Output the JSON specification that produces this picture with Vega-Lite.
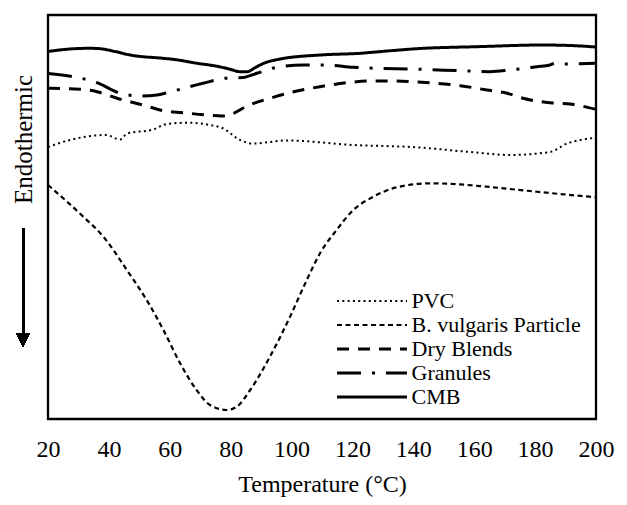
{
  "$schema": "https://vega.github.io/schema/vega-lite/v6.json",
  "autosize": {"type": "none"},
  "padding": {"left": 48, "top": 15, "right": 31, "bottom": 86},
  "width": 548,
  "height": 404,
  "background": "white",
  "config": {
    "font": "Liberation Serif",
    "view": {"stroke": "black", "strokeWidth": 2.3},
    "axis": {"grid": false, "domain": false, "ticks": false, "labelFont": "Liberation Serif", "titleFont": "Liberation Serif"},
    "legend": {"labelFont": "Liberation Serif"}
  },
  "data": {
    "values": [
      {"series": "PVC", "t": 20, "v": 272},
      {"series": "PVC", "t": 27.2, "v": 279},
      {"series": "PVC", "t": 39.1, "v": 284},
      {"series": "PVC", "t": 43.7, "v": 279.5},
      {"series": "PVC", "t": 46.0, "v": 285.5},
      {"series": "PVC", "t": 54.5, "v": 289.5},
      {"series": "PVC", "t": 59.1, "v": 295},
      {"series": "PVC", "t": 65.7, "v": 296.3},
      {"series": "PVC", "t": 73.2, "v": 294},
      {"series": "PVC", "t": 77.2, "v": 291},
      {"series": "PVC", "t": 83.1, "v": 279},
      {"series": "PVC", "t": 87.1, "v": 275.5},
      {"series": "PVC", "t": 98.5, "v": 278.5},
      {"series": "PVC", "t": 120.2, "v": 274},
      {"series": "PVC", "t": 141.2, "v": 271.7},
      {"series": "PVC", "t": 158.6, "v": 267},
      {"series": "PVC", "t": 171.7, "v": 264},
      {"series": "PVC", "t": 184.9, "v": 267},
      {"series": "PVC", "t": 190.5, "v": 275.5},
      {"series": "PVC", "t": 195.7, "v": 279.5},
      {"series": "PVC", "t": 200, "v": 281.3},

      {"series": "B. vulgaris Particle", "t": 20, "v": 234},
      {"series": "B. vulgaris Particle", "t": 31.6, "v": 202.3},
      {"series": "B. vulgaris Particle", "t": 38.2, "v": 182.3},
      {"series": "B. vulgaris Particle", "t": 45.9, "v": 149},
      {"series": "B. vulgaris Particle", "t": 52.4, "v": 119},
      {"series": "B. vulgaris Particle", "t": 57.9, "v": 89},
      {"series": "B. vulgaris Particle", "t": 63.4, "v": 55.7},
      {"series": "B. vulgaris Particle", "t": 68.8, "v": 29},
      {"series": "B. vulgaris Particle", "t": 73.2, "v": 14},
      {"series": "B. vulgaris Particle", "t": 78.7, "v": 9},
      {"series": "B. vulgaris Particle", "t": 82, "v": 12.3},
      {"series": "B. vulgaris Particle", "t": 86.4, "v": 29},
      {"series": "B. vulgaris Particle", "t": 92.9, "v": 62.3},
      {"series": "B. vulgaris Particle", "t": 99.5, "v": 102.3},
      {"series": "B. vulgaris Particle", "t": 105, "v": 139},
      {"series": "B. vulgaris Particle", "t": 109.4, "v": 166},
      {"series": "B. vulgaris Particle", "t": 114.8, "v": 189},
      {"series": "B. vulgaris Particle", "t": 120.3, "v": 209},
      {"series": "B. vulgaris Particle", "t": 126.9, "v": 222.3},
      {"series": "B. vulgaris Particle", "t": 134.5, "v": 231.7},
      {"series": "B. vulgaris Particle", "t": 145.5, "v": 235.7},
      {"series": "B. vulgaris Particle", "t": 153.1, "v": 235},
      {"series": "B. vulgaris Particle", "t": 164.1, "v": 232.3},
      {"series": "B. vulgaris Particle", "t": 177.2, "v": 228.3},
      {"series": "B. vulgaris Particle", "t": 188.2, "v": 225},
      {"series": "B. vulgaris Particle", "t": 200, "v": 221.7},

      {"series": "Dry Blends", "t": 20, "v": 330.7},
      {"series": "Dry Blends", "t": 30.5, "v": 329.7},
      {"series": "Dry Blends", "t": 36.1, "v": 327.3},
      {"series": "Dry Blends", "t": 42.7, "v": 320.7},
      {"series": "Dry Blends", "t": 51.2, "v": 314},
      {"series": "Dry Blends", "t": 57.8, "v": 308.3},
      {"series": "Dry Blends", "t": 64.3, "v": 306.3},
      {"series": "Dry Blends", "t": 72.2, "v": 304},
      {"series": "Dry Blends", "t": 77.1, "v": 303},
      {"series": "Dry Blends", "t": 80.4, "v": 305},
      {"series": "Dry Blends", "t": 85.4, "v": 313},
      {"series": "Dry Blends", "t": 92.9, "v": 320.7},
      {"series": "Dry Blends", "t": 101.8, "v": 328},
      {"series": "Dry Blends", "t": 109.3, "v": 332.3},
      {"series": "Dry Blends", "t": 118.2, "v": 336.3},
      {"series": "Dry Blends", "t": 125.8, "v": 338},
      {"series": "Dry Blends", "t": 133.3, "v": 338},
      {"series": "Dry Blends", "t": 141.2, "v": 337},
      {"series": "Dry Blends", "t": 147.8, "v": 335.7},
      {"series": "Dry Blends", "t": 155.4, "v": 333.3},
      {"series": "Dry Blends", "t": 164.2, "v": 329},
      {"series": "Dry Blends", "t": 170.8, "v": 325.7},
      {"series": "Dry Blends", "t": 176.0, "v": 320.7},
      {"series": "Dry Blends", "t": 184.9, "v": 316.3},
      {"series": "Dry Blends", "t": 191.5, "v": 315},
      {"series": "Dry Blends", "t": 200, "v": 309.7},

      {"series": "Granules", "t": 20, "v": 345.5},
      {"series": "Granules", "t": 28.2, "v": 342.3},
      {"series": "Granules", "t": 36.1, "v": 336.3},
      {"series": "Granules", "t": 43.7, "v": 325.7},
      {"series": "Granules", "t": 50.2, "v": 323},
      {"series": "Granules", "t": 55.8, "v": 324},
      {"series": "Granules", "t": 59.1, "v": 326.3},
      {"series": "Granules", "t": 63.4, "v": 329.7},
      {"series": "Granules", "t": 70.9, "v": 335.7},
      {"series": "Granules", "t": 79.1, "v": 341},
      {"series": "Granules", "t": 84.1, "v": 341.5},
      {"series": "Granules", "t": 88.6, "v": 345.7},
      {"series": "Granules", "t": 95.2, "v": 351.7},
      {"series": "Granules", "t": 103.8, "v": 354},
      {"series": "Granules", "t": 111.6, "v": 354},
      {"series": "Granules", "t": 120.2, "v": 351.7},
      {"series": "Granules", "t": 128.1, "v": 350.7},
      {"series": "Granules", "t": 138.9, "v": 350},
      {"series": "Granules", "t": 155.4, "v": 348.3},
      {"series": "Granules", "t": 165.2, "v": 347.3},
      {"series": "Granules", "t": 171.7, "v": 349},
      {"series": "Granules", "t": 180.6, "v": 352.3},
      {"series": "Granules", "t": 184.9, "v": 354},
      {"series": "Granules", "t": 186.5, "v": 355.7},
      {"series": "Granules", "t": 188.2, "v": 355},
      {"series": "Granules", "t": 200, "v": 355.7},

      {"series": "CMB", "t": 20, "v": 367.5},
      {"series": "CMB", "t": 27.2, "v": 370},
      {"series": "CMB", "t": 33.8, "v": 370.7},
      {"series": "CMB", "t": 37.1, "v": 370.3},
      {"series": "CMB", "t": 42, "v": 367.5},
      {"series": "CMB", "t": 47, "v": 364},
      {"series": "CMB", "t": 57.8, "v": 360.7},
      {"series": "CMB", "t": 61.1, "v": 359.7},
      {"series": "CMB", "t": 69, "v": 355.7},
      {"series": "CMB", "t": 75.6, "v": 352.7},
      {"series": "CMB", "t": 79.9, "v": 349.7},
      {"series": "CMB", "t": 83.1, "v": 347.3},
      {"series": "CMB", "t": 85.4, "v": 347.3},
      {"series": "CMB", "t": 88.1, "v": 351.5},
      {"series": "CMB", "t": 90.7, "v": 355.5},
      {"series": "CMB", "t": 96.3, "v": 360},
      {"series": "CMB", "t": 109.4, "v": 364},
      {"series": "CMB", "t": 122.5, "v": 365.7},
      {"series": "CMB", "t": 131.4, "v": 368},
      {"series": "CMB", "t": 142.2, "v": 370.5},
      {"series": "CMB", "t": 160.9, "v": 372.3},
      {"series": "CMB", "t": 182.6, "v": 374},
      {"series": "CMB", "t": 191.5, "v": 373.5},
      {"series": "CMB", "t": 200, "v": 372}
    ]
  },
  "layer": [
    {
      "mark": {"type": "line", "interpolate": "monotone", "color": "black", "strokeCap": "butt"},
      "encoding": {
        "x": {
          "field": "t", "type": "quantitative",
          "scale": {"domain": [20, 200], "nice": false, "zero": false},
          "axis": {
            "values": [20, 40, 60, 80, 100, 120, 140, 160, 180, 200],
            "labelFont": "Liberation Serif",
            "labelFontSize": 24, "labelColor": "black", "labelPadding": 18,
            "labelFlush": false, "labelOverlap": false,
            "title": "Temperature (°C)", "titleFont": "Liberation Serif", "titleFontSize": 24, "titleFontWeight": "normal",
            "titleColor": "black", "titlePadding": 11
          }
        },
        "y": {
          "field": "v", "type": "quantitative",
          "scale": {"domain": [0, 404], "nice": false, "zero": false},
          "axis": {
            "labels": false,
            "title": "Endothermic", "titleFont": "Liberation Serif", "titleFontSize": 25, "titleFontWeight": "normal",
            "titleColor": "black", "titleAngle": -90, "titleAlign": "center",
            "titleBaseline": "middle", "titleX": -25, "titleY": 124
          }
        },
        "detail": {"field": "series"},
        "strokeDash": {
          "field": "series", "type": "nominal",
          "scale": {
            "domain": ["PVC", "B. vulgaris Particle", "Dry Blends", "Granules", "CMB"],
            "range": [[2, 3.3], [5, 3.5], [12, 9], [24, 11, 3, 11], [1, 0]]
          },
          "legend": {
            "title": null, "orient": "none", "legendX": 313, "legendY": 275,
            "padding": 0, "rowPadding": 2,
            "labelFont": "Liberation Serif", "labelFontSize": 22, "labelColor": "black",
            "labelOffset": 28.5, "labelLimit": 400,
            "symbolType": "M-4,0H4", "symbolSize": 306, "symbolStrokeColor": "black"
          }
        },
        "strokeWidth": {
          "field": "series", "type": "nominal",
          "scale": {
            "type": "ordinal",
            "domain": ["PVC", "B. vulgaris Particle", "Dry Blends", "Granules", "CMB"],
            "range": [2, 2.2, 3, 3, 3]
          },
          "legend": {
            "title": null, "orient": "none", "legendX": 313, "legendY": 275,
            "padding": 0, "rowPadding": 2,
            "labelFont": "Liberation Serif", "labelFontSize": 22, "labelColor": "black",
            "labelOffset": 28.5, "labelLimit": 400,
            "symbolType": "M-4,0H4", "symbolSize": 306, "symbolStrokeColor": "black"
          }
        }
      }
    },
    {
      "mark": {"type": "rule", "color": "black", "strokeWidth": 2, "clip": false},
      "encoding": {
        "x": {"datum": 11.8, "type": "quantitative"},
        "y": {"datum": 191, "type": "quantitative"},
        "y2": {"datum": 82}
      }
    },
    {
      "mark": {"type": "point", "shape": "M-1,-1L1,-1L0,1Z", "filled": true, "color": "black", "opacity": 1, "size": 196, "clip": false},
      "encoding": {
        "x": {"datum": 11.8, "type": "quantitative"},
        "y": {"datum": 79, "type": "quantitative"}
      }
    }
  ]
}
